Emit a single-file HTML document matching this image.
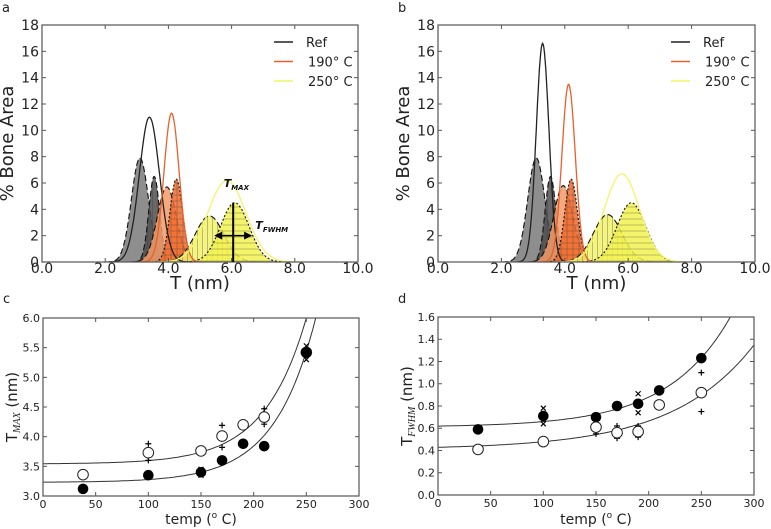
<!DOCTYPE html>
<html><head><meta charset="utf-8">
<style>
html,body{margin:0;padding:0;background:#fff;}
svg{display:block;font-family:"DejaVu Sans","Liberation Sans",sans-serif;}
</style></head>
<body>
<svg id="fig" width="771" height="529" viewBox="0 0 771 529" xmlns="http://www.w3.org/2000/svg">
<defs>
<pattern id="hv" width="5" height="5" patternUnits="userSpaceOnUse"><path d="M2.5 0V5" stroke="#333" stroke-width="0.5" opacity="0.6"/></pattern>
<pattern id="hh" width="6" height="6" patternUnits="userSpaceOnUse"><path d="M0 3H6" stroke="#333" stroke-width="0.5" opacity="0.6"/></pattern>
<pattern id="hg" width="6" height="6" patternUnits="userSpaceOnUse"><path d="M0 3H6M3 0V6" stroke="#333" stroke-width="0.5" opacity="0.6"/></pattern>
</defs>
</svg>
<script>
// ---- data: panel a/b Gaussian component params (center nm, height %, sigma nm)
const compCentersA = [3.1, 3.55, 3.95, 4.25, 5.3, 6.1];
const compHeightsA = [7.9, 6.5, 5.7, 6.3, 3.5, 4.5];
const compSigmasA  = [0.27, 0.17, 0.3, 0.2, 0.45, 0.45];
const compCentersB = [3.1, 3.55, 3.95, 4.2, 5.35, 6.1];
const compHeightsB = [7.9, 6.5, 5.8, 6.3, 3.6, 4.5];
const compSigmasB  = [0.27, 0.17, 0.3, 0.2, 0.45, 0.45];
const lineCentersA = [3.4, 4.1, 5.85];
const lineHeightsA = [11.0, 11.3, 6.2];
const lineSigmasA  = [0.32, 0.24, 0.6];
const lineCentersB = [3.3, 4.12, 5.8];
const lineHeightsB = [16.6, 13.5, 6.7];
const lineSigmasB  = [0.2, 0.21, 0.55];
const legendLabels = ["Ref", "190\u00b0 C", "250\u00b0 C"];
const xTicksAB = [0, 2, 4, 6, 8, 10];
const yTicksAB = [0, 2, 4, 6, 8, 10, 12, 14, 16, 18];
// panel c
const tempsC = [38, 100, 150, 170, 190, 210, 250];
const tmaxOpen = [3.36, 3.73, 3.76, 4.01, 4.2, 4.33, 5.42];
const tmaxFilled = [3.12, 3.35, 3.4, 3.6, 3.88, 3.84, 5.42];
const plusCx = [100, 100, 170, 170, 210, 210];
const plusCy = [3.88, 3.6, 4.19, 3.82, 4.47, 4.21];
const crossCx = [150, 150, 250, 250];
const crossCy = [3.45, 3.35, 5.53, 5.3];
const fitC = [[3.54, 0.0046, 39.8], [3.23, 0.00363, 39]];
const xTicksCD = [0, 50, 100, 150, 200, 250, 300];
const yTicksC = [3.0, 3.5, 4.0, 4.5, 5.0, 5.5, 6.0];
// panel d
const tempsD = [38, 100, 150, 170, 190, 210, 250];
const fwhmFilled = [0.59, 0.71, 0.70, 0.80, 0.82, 0.94, 1.23];
const fwhmOpen = [0.41, 0.48, 0.61, 0.56, 0.57, 0.81, 0.92];
const crossDx = [100, 100, 190, 190];
const crossDy = [0.78, 0.64, 0.91, 0.74];
const plusDx = [150, 170, 170, 190, 190, 250, 250];
const plusDy = [0.55, 0.62, 0.51, 0.62, 0.52, 1.1, 0.75];
const fitD = [[0.61, 0.0094, 59.6], [0.41, 0.0188, 76.7]];
const yTicksD = [0, 0.2, 0.4, 0.6, 0.8, 1.0, 1.2, 1.4, 1.6];

const NS = "http://www.w3.org/2000/svg";
const svg = document.getElementById("fig");
function el(tag, attrs, parent, txt) {
  const e = document.createElementNS(NS, tag);
  for (const k in attrs) e.setAttribute(k, attrs[k]);
  if (txt !== undefined) e.textContent = txt;
  (parent || svg).appendChild(e);
  return e;
}
function grp(name) {
  const g = el("g", {}, svg);
  
  
  return g;
}
function axis(box, xr, yr) {
  return {
    x: v => box.x0 + (v - xr[0]) / (xr[1] - xr[0]) * (box.x1 - box.x0),
    y: v => box.y1 - (v - yr[0]) / (yr[1] - yr[0]) * (box.y1 - box.y0)
  };
}
function frame(g, box, ax, xt, yt, xfmt, yfmt, fs, xoff) {
  el("rect", {x: box.x0, y: box.y0, width: box.x1 - box.x0, height: box.y1 - box.y0, fill: "none", stroke: "#555", "stroke-width": 1.2}, g);
  xt.forEach(v => {
    const X = ax.x(v);
    el("line", {x1: X, x2: X, y1: box.y1, y2: box.y1 - 4, stroke: "#555"}, g);
    el("line", {x1: X, x2: X, y1: box.y0, y2: box.y0 + 4, stroke: "#555"}, g);
    const t = el("text", {x: X, y: box.y1 + xoff, "text-anchor": "middle", "font-size": fs, fill: "#222"}, g, xfmt(v));
    
    
  });
  yt.forEach(v => {
    const Y = ax.y(v);
    el("line", {x1: box.x0, x2: box.x0 + 4, y1: Y, y2: Y, stroke: "#555"}, g);
    el("line", {x1: box.x1, x2: box.x1 - 4, y1: Y, y2: Y, stroke: "#555"}, g);
    const t = el("text", {x: box.x0 - 3, y: Y + fs * 0.36, "text-anchor": "end", "font-size": fs, fill: "#222"}, g, yfmt(v));
    
    
  });
}
function gaussPath(ax, c, h, s, closed) {
  let d = "";
  const a = c - 4 * s, b = c + 4 * s;
  for (let i = 0; i <= 80; i++) {
    const v = a + (b - a) * i / 80;
    const yv = h * Math.exp(-0.5 * ((v - c) / s) ** 2);
    d += (i ? "L" : "M") + ax.x(v).toFixed(1) + " " + ax.y(yv).toFixed(1);
  }
  if (closed) d += "Z";
  return d;
}
const compFill = ["#7a7a7a", "#4e4e4e", "#f39a68", "#f06a2a", "#f2f26a", "#f2f250"];
const compPat = [null, "hv", null, "hg", "hv", "hh"];
const compDash = ["6,3", "6,3", "6,3", "2,2", "6,3", "2,2"];
const lineColor = ["#222", "#e8602a", "#f4f46a"];

function histPanel(name, box, cC, cH, cS, lC, lH, lS, letter) {
  const g = grp(name);
  const ax = axis(box, [0, 10], [0, 18]);
  cC.forEach((c, i) => {
    const d = gaussPath(ax, c, cH[i], cS[i], true);
    const p = el("path", {d: d, fill: compFill[i], "fill-opacity": 0.85, stroke: "none"}, g);
    
    
    if (compPat[i]) el("path", {d: d, fill: "url(#" + compPat[i] + ")", stroke: "none"}, g);
    const o = el("path", {d: d, fill: "none", stroke: "#111", "stroke-width": 1.1, "stroke-dasharray": compDash[i]}, g);
    
    
  });
  lC.forEach((c, i) => {
    const p = el("path", {d: gaussPath(ax, c, lH[i], lS[i], false), fill: "none", stroke: lineColor[i], "stroke-width": 1.3}, g);
    
    
  });
  frame(g, box, ax, xTicksAB, yTicksAB, v => v.toFixed(1), v => String(v), 14, 11);
  legendLabels.forEach((lab, i) => {
    const Y = box.y0 + 17 + i * 19.5;
    el("line", {x1: box.x1 - 84, x2: box.x1 - 65, y1: Y, y2: Y, stroke: lineColor[i], "stroke-width": 1.4}, g);
    const t = el("text", {x: box.x1 - 52 + (i ? 2 : 0), y: Y + 5, "font-size": 13, fill: "#222"}, g, lab);
    
    
  });
  const xl = el("text", {x: (box.x0 + box.x1) / 2, y: 289, "text-anchor": "middle", "font-size": 18, fill: "#222"}, g, "T (nm)");
  
  
  const yl = el("text", {x: 0, y: 0, "text-anchor": "middle", "font-size": 18, fill: "#222", transform: `translate(${box.x0 - 29},${(box.y0 + box.y1) / 2}) rotate(-90)`}, g, "% Bone Area");
  
  
  const pl = el("text", {x: box.x0 - 40, y: 12, "font-size": 13, fill: "#222"}, g, letter);
  
  
  return ax;
}
const boxA = {x0: 42, x1: 358, y0: 25, y1: 262};
const boxB = {x0: 438, x1: 755, y0: 25, y1: 262};
const axA = histPanel("panel-a", boxA, compCentersA, compHeightsA, compSigmasA, lineCentersA, lineHeightsA, lineSigmasA, "a");
histPanel("panel-b", boxB, compCentersB, compHeightsB, compSigmasB, lineCentersB, lineHeightsB, lineSigmasB, "b");
(function () {
  const g = grp("tmax-fwhm-annotation");
  const X = axA.x(6.05);
  el("line", {x1: X, x2: X, y1: axA.y(0), y2: axA.y(4.5), stroke: "#000", "stroke-width": 2}, g);
  const y2 = axA.y(2);
  el("line", {x1: axA.x(5.55), x2: axA.x(6.55), y1: y2, y2: y2, stroke: "#000", "stroke-width": 1.5}, g);
  el("path", {d: `M${axA.x(5.45)} ${y2}l8 -4v8Z M${axA.x(6.65)} ${y2}l-8 -4v8Z`, fill: "#000"}, g);
  const t1 = el("text", {x: axA.x(5.75), y: axA.y(5.7), "font-size": 11, "font-style": "italic", "font-weight": "bold", fill: "#111"}, g);
  t1.innerHTML = 'T<tspan font-size="7" dy="3">MAX</tspan>';
  const t2 = el("text", {x: axA.x(6.75), y: axA.y(2.5), "font-size": 11, "font-style": "italic", "font-weight": "bold", fill: "#111"}, g);
  t2.innerHTML = 'T<tspan font-size="7" dy="3">FWHM</tspan>';
})();

function marker(g, kind, X, Y) {
  let e;
  if (kind === "filled") e = el("circle", {cx: X, cy: Y, r: 5.3, fill: "#000"}, g);
  else if (kind === "open") e = el("circle", {cx: X, cy: Y, r: 5.3, fill: "#fff", stroke: "#222", "stroke-width": 1}, g);
  else if (kind === "plus") e = el("path", {d: `M${X - 3} ${Y}h6M${X} ${Y - 3}v6`, stroke: "#000", "stroke-width": 1.2}, g);
  else e = el("path", {d: `M${X - 2.5} ${Y - 2.5}l5 5M${X + 2.5} ${Y - 2.5}l-5 5`, stroke: "#000", "stroke-width": 1.2}, g);
  
  
}
function scatterPanel(name, box, yr, yt, yfmt, fits, series, extras, ytitleSub, letter) {
  const g = grp(name);
  const ax = axis(box, [0, 300], yr);
  const clip = "clip-" + name;
  const cp = el("clipPath", {id: clip}, g);
  el("rect", {x: box.x0, y: box.y0, width: box.x1 - box.x0, height: box.y1 - box.y0}, cp);
  fits.forEach(f => {
    let d = "";
    for (let i = 0; i <= 150; i++) {
      const t = 300 * i / 150;
      d += (i ? "L" : "M") + ax.x(t).toFixed(1) + " " + ax.y(f[0] + f[1] * Math.exp(t / f[2])).toFixed(1);
    }
    const p = el("path", {d: d, fill: "none", stroke: "#333", "stroke-width": 1, "clip-path": `url(#${clip})`}, g);
    
    
  });
  extras.forEach(s => s.xs.forEach((x, i) => marker(g, s.kind, ax.x(x), ax.y(s.ys[i]))));
  series.forEach(s => s.xs.forEach((x, i) => marker(g, s.kind, ax.x(x), ax.y(s.ys[i]))));
  frame(g, box, ax, xTicksCD, yt, v => String(v), yfmt, 11, 12);
  const xl = el("text", {x: (box.x0 + box.x1) / 2, y: 524, "text-anchor": "middle", "font-size": 14, fill: "#222"}, g);
  xl.innerHTML = 'temp (<tspan font-size="9" dy="-6">o</tspan><tspan dy="6"> C)</tspan>';
  
  
  const yl = el("text", {x: 0, y: 0, "text-anchor": "middle", "font-size": 15, fill: "#222", transform: `translate(${box.x0 - 26},${(box.y0 + box.y1) / 2}) rotate(-90)`}, g);
  yl.innerHTML = `T<tspan font-size="10" font-style="italic" font-family="Liberation Serif" dy="3">${ytitleSub}</tspan><tspan dy="-3"> (nm)</tspan>`;
  
  
  const pl = el("text", {x: box.x0 - 40, y: 303, "font-size": 13, fill: "#222"}, g, letter);
  
  
}
scatterPanel("panel-c", {x0: 43, x1: 359, y0: 318, y1: 496}, [3, 6], yTicksC, v => v.toFixed(1), fitC,
  [{kind: "open", xs: tempsC, ys: tmaxOpen}, {kind: "filled", xs: tempsC, ys: tmaxFilled}],
  [{kind: "plus", xs: plusCx, ys: plusCy}, {kind: "cross", xs: crossCx, ys: crossCy}], "MAX", "c");
scatterPanel("panel-d", {x0: 438, x1: 754, y0: 317, y1: 495}, [0, 1.6], yTicksD, v => v.toFixed(1), fitD,
  [{kind: "filled", xs: tempsD, ys: fwhmFilled}, {kind: "open", xs: tempsD, ys: fwhmOpen}],
  [{kind: "plus", xs: plusDx, ys: plusDy}, {kind: "cross", xs: crossDx, ys: crossDy}], "FWHM", "d");
</script>
</body></html>
